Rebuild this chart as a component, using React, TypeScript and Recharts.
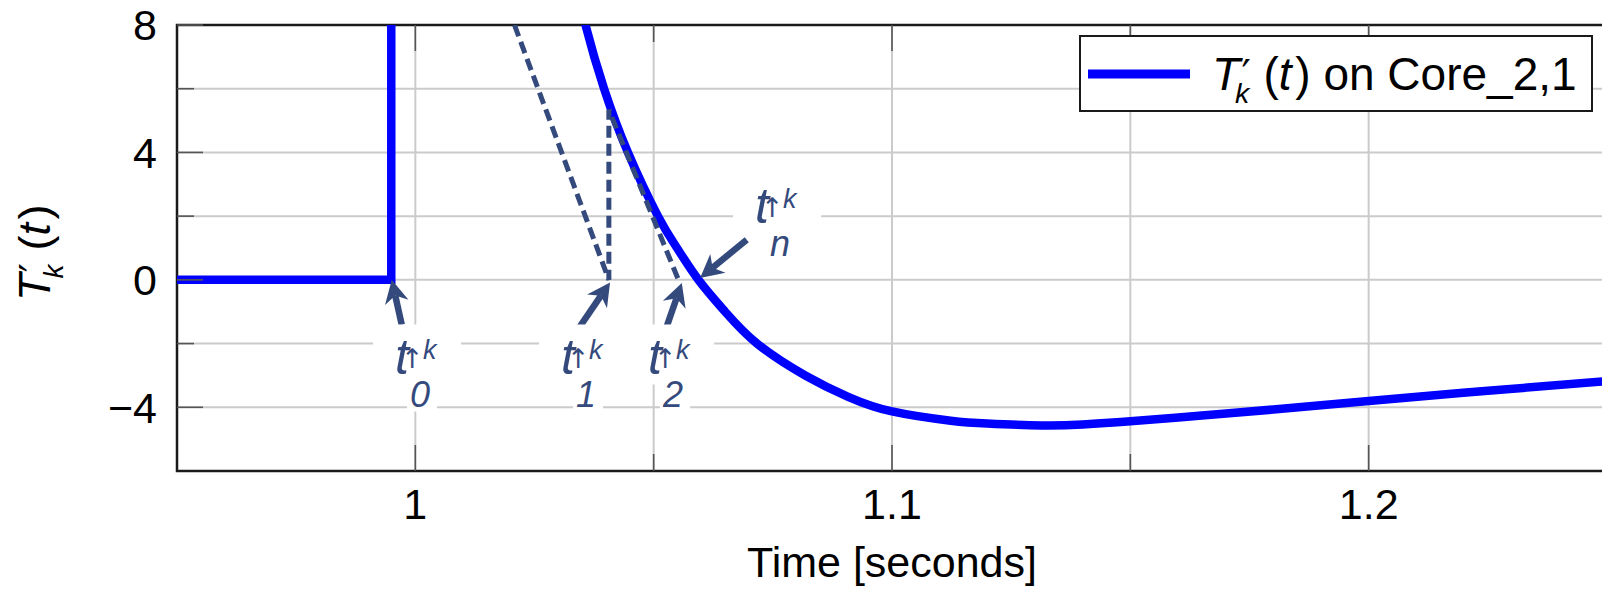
import React from "react";
import {
  LineChart,
  Line,
  XAxis,
  YAxis,
  CartesianGrid,
  ReferenceArea,
  ReferenceLine,
  ReferenceDot,
  Legend,
} from "recharts";

const FONT = "'Liberation Sans', Arial, Helvetica, sans-serif";
const SYMBOL_FONT = "'DejaVu Sans', sans-serif";
const BLUE = "#0000ff";
const ANNOT = "#344a7d";
const GRID = "#cbcbcb";
const TICK = "#555";
const PLOT_TOP = 25;

const X_DOMAIN = [0.95, 1.25];
const Y_DOMAIN = [-6, 8];
const X_TICKS = [1, 1.05, 1.1, 1.15, 1.2];
const X_LABELLED = [1, 1.1, 1.2];
const Y_TICKS = [-4, -2, 0, 2, 4, 6, 8];
const Y_LABELLED = [-4, 0, 4, 8];

// T'_k(t) sits at zero until t0, then jumps off the top of the axis
const stepTime = [0.95, 0.99495, 0.99495, 1.0296];
const stepValue = [0, 0, 18, 12];

// decay after the jump; anything above 8 is clipped by the axis
const decayTime = [
  1.0296, 1.0326, 1.0357, 1.0396, 1.0446, 1.0509, 1.0549, 1.0594, 1.065, 1.0717,
  1.0818, 1.0908, 1.1, 1.1123, 1.12, 1.1314, 1.14, 1.15, 1.165, 1.18, 1.2, 1.225,
  1.25,
];
const decayValue = [
  12, 10, 8, 6, 4, 2, 1, 0, -1, -2, -3, -3.67, -4.13, -4.42, -4.51, -4.57, -4.54,
  -4.44, -4.26, -4.07, -3.8, -3.48, -3.18,
];

// Newton steps: tangent down to t1, back up to the curve, tangent down to t2
const newtonTime = [1.0208, 1.0406, 1.0406, 1.0552];
const newtonValue = [8, 0, 5.34, 0];

// pointer arrows (tail -> tip)
const arrowFromT = [0.99715, 1.03441, 1.05275, 1.06953];
const arrowFromV = [-1.41, -1.49, -1.46, 1.26];
const arrowToT = [0.99505, 1.04085, 1.0559, 1.05974];
const arrowToV = [0.0, -0.08, -0.1, 0.06];

// t^{↑k}_i labels, anchored at the left/baseline of the "t"
const labelSub = ["0", "1", "2", "n"];
const labelT = [0.99574, 1.03057, 1.04883, 1.07128];
const labelV = [-2.97, -2.97, -2.97, 1.79];

const zip = (ts: number[], vs: number[]) => ts.map((t, i) => ({ t, v: vs[i] }));
const stepData = zip(stepTime, stepValue);
const decayData = zip(decayTime, decayValue);
const newtonData = zip(newtonTime, newtonValue);

const fmt = (v: number) => (v < 0 ? `\u2212${Math.abs(v)}` : `${v}`);

const XTick = (p: any) => {
  const { x, y, payload } = p;
  const major = X_LABELLED.includes(payload.value);
  const len = major ? 26 : 17;
  const axisY = y - 17;
  return (
    <g>
      <line x1={x} x2={x} y1={axisY} y2={axisY - len} stroke={TICK} strokeWidth={1.6} />
      <line x1={x} x2={x} y1={PLOT_TOP} y2={PLOT_TOP + len} stroke={TICK} strokeWidth={1.6} />
      {major && (
        <text x={x} y={y} dy="0.71em" textAnchor="middle" fontSize={43} fontFamily={FONT} fill="#000">
          {fmt(payload.value)}
        </text>
      )}
    </g>
  );
};

const YTick = (p: any) => {
  const { x, y, payload } = p;
  const major = Y_LABELLED.includes(payload.value);
  const len = major ? 26 : 17;
  const axisX = x + 20;
  return (
    <g>
      <line x1={axisX} x2={axisX + len} y1={y} y2={y} stroke={TICK} strokeWidth={1.6} />
      {major && (
        <text x={x} y={y} dy="0.355em" textAnchor="end" fontSize={43} fontFamily={FONT} fill="#000">
          {fmt(payload.value)}
        </text>
      )}
    </g>
  );
};

// T'_k (t) with the prime stacked over the subscript
const TkText = ({ x, y, fs, suffix }: { x: number; y: number; fs: number; suffix?: string }) => (
  <text fontFamily={FONT} fill="#000" fontSize={fs}>
    <tspan x={x} y={y} fontStyle="italic">T</tspan>
    <tspan x={x + 0.5 * fs} y={y + 0.28 * fs} fontSize={0.62 * fs} fontStyle="italic">k</tspan>
    <tspan x={x + 0.64 * fs} y={y - 0.02 * fs} fontSize={0.9 * fs} fontFamily={SYMBOL_FONT}>{"\u2032"}</tspan>
    <tspan x={x + 1.12 * fs} y={y}>(</tspan>
    <tspan fontStyle="italic">t</tspan>
    <tspan dx={0.08 * fs}>)</tspan>
    {suffix ? <tspan>{suffix}</tspan> : null}
  </text>
);

const YTitle = (p: any) => {
  const vb = p.viewBox ?? { x: 0, y: 0, height: 446 };
  const bx = vb.x + 50;
  const by = vb.y + vb.height / 2 + 53;
  return (
    <g transform={`rotate(-90, ${bx}, ${by})`}>
      <TkText x={bx} y={by} fs={45} />
    </g>
  );
};

const LegendBox = () => (
  <svg width={514} height={77} style={{ display: "block" }}>
    <rect x={1} y={1} width={512} height={75} fill="#fff" stroke="#1a1a1a" strokeWidth={2} />
    <line x1={9} x2={111} y1={39} y2={39} stroke={BLUE} strokeWidth={9} />
    <TkText x={133} y={55} fs={46} suffix=" on Core_2,1" />
  </svg>
);

const Arrow = (p: any) => {
  const { x1, y1, x2, y2 } = p;
  const dx = x2 - x1;
  const dy = y2 - y1;
  const len = Math.hypot(dx, dy) || 1;
  const ux = dx / len;
  const uy = dy / len;
  const head = 23;
  const half = 12;
  const bx = x2 - ux * head;
  const by = y2 - uy * head;
  const nx = x2 - ux * head * 0.7;
  const ny = y2 - uy * head * 0.7;
  return (
    <g>
      <line x1={x1} y1={y1} x2={nx} y2={ny} stroke={ANNOT} strokeWidth={6.5} />
      <polygon
        points={`${x2},${y2} ${bx - uy * half},${by + ux * half} ${nx},${ny} ${bx + uy * half},${by - ux * half}`}
        fill={ANNOT}
      />
    </g>
  );
};

const TLabel = ({ cx, cy, sub }: { cx: number; cy: number; sub: string }) => (
  <g>
    <rect x={cx - 22} y={cy - 50} width={88} height={60} fill="#fff" />
    <rect x={cx + 12} y={cy + 10} width={30} height={27} fill="#fff" />
    <text fontFamily={FONT} fill={ANNOT} fontStyle="italic">
      <tspan x={cx} y={cy} fontSize={50}>t</tspan>
      <tspan x={cx + 6} y={cy - 6} fontSize={27} fontStyle="normal" fontFamily={SYMBOL_FONT}>{"\u2191"}</tspan>
      <tspan x={cx + 28} y={cy - 15} fontSize={27}>k</tspan>
      <tspan x={cx + 15} y={cy + 33} fontSize={36}>{sub}</tspan>
    </text>
  </g>
);

export default function App() {
  return (
    <div style={{ width: 1602, height: 589, overflow: "hidden", position: "relative", background: "#fff" }}>
      <style>{`body{margin:0}`}</style>
      <LineChart width={1607} height={589} margin={{ top: PLOT_TOP, right: 0, left: 0, bottom: 0 }}>
        <CartesianGrid stroke={GRID} strokeWidth={2} />
        <XAxis
          type="number"
          dataKey="t"
          domain={X_DOMAIN}
          ticks={X_TICKS}
          interval={0}
          allowDataOverflow
          height={118}
          axisLine={false}
          tickLine={false}
          tickSize={0}
          tickMargin={17}
          tick={XTick}
          label={{
            value: "Time [seconds]",
            position: "insideBottom",
            offset: 12,
            fill: "#000",
            fontSize: 43,
            fontFamily: FONT,
          }}
        />
        <YAxis
          type="number"
          dataKey="v"
          domain={Y_DOMAIN}
          ticks={Y_TICKS}
          interval={0}
          allowDataOverflow
          width={177}
          axisLine={false}
          tickLine={false}
          tickSize={0}
          tickMargin={20}
          tick={YTick}
          label={<YTitle />}
        />
        <ReferenceArea
          x1={X_DOMAIN[0]}
          x2={X_DOMAIN[1]}
          y1={Y_DOMAIN[0]}
          y2={Y_DOMAIN[1]}
          fill="none"
          stroke="#1a1a1a"
          strokeWidth={2.5}
          ifOverflow="visible"
        />
        {labelSub.map((s, i) => (
          <ReferenceDot
            key={`lbl-${s}`}
            x={labelT[i]}
            y={labelV[i]}
            ifOverflow="visible"
            shape={(p: any) => <TLabel cx={p.cx} cy={p.cy} sub={s} />}
          />
        ))}
        <Line
          data={stepData}
          dataKey="v"
          type="linear"
          stroke={BLUE}
          strokeWidth={8.5}
          dot={false}
          activeDot={false}
          legendType="none"
          isAnimationActive={false}
        />
        <Line
          data={decayData}
          dataKey="v"
          type="natural"
          stroke={BLUE}
          strokeWidth={8.5}
          dot={false}
          activeDot={false}
          isAnimationActive={false}
        />
        <Line
          data={newtonData}
          dataKey="v"
          type="linear"
          stroke={ANNOT}
          strokeWidth={5}
          strokeDasharray="12 6"
          dot={false}
          activeDot={false}
          legendType="none"
          isAnimationActive={false}
        />
        {arrowFromT.map((t, i) => (
          <ReferenceLine
            key={`arrow-${i}`}
            segment={[
              { x: t, y: arrowFromV[i] },
              { x: arrowToT[i], y: arrowToV[i] },
            ]}
            ifOverflow="visible"
            shape={Arrow}
          />
        ))}
        <Legend
          content={<LegendBox />}
          layout="vertical"
          align="center"
          verticalAlign="middle"
          wrapperStyle={{ left: 1079, top: 35, width: 514, height: 77 }}
        />
      </LineChart>
    </div>
  );
}
